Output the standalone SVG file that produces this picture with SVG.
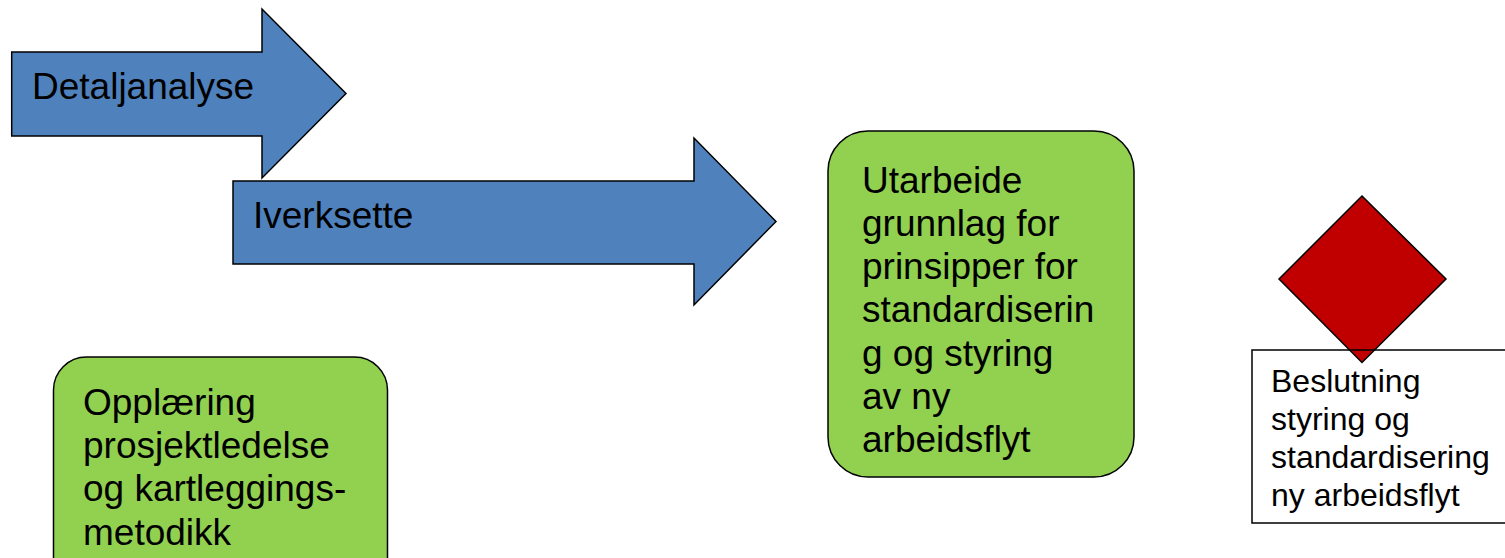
<svg xmlns="http://www.w3.org/2000/svg" width="1505" height="558" viewBox="0 0 1505 558">
<style>
.arrow{fill:#4F81BD;stroke:#000;stroke-width:1.5;stroke-linejoin:miter}
.green{fill:#92D050;stroke:#000;stroke-width:1.5}
.t{font-family:"Liberation Sans",Arial,sans-serif;font-size:37px;fill:#000}
.s{font-family:"Liberation Sans",Arial,sans-serif;font-size:32px;fill:#000}
</style>
<rect width="1505" height="558" fill="#fff"/>
<g id="connectors"></g>
<g id="node-detaljanalyse">
<path class="arrow" d="M11.7,52 H262 V9 L346,93.5 L262,178 V136 H11.7 Z"/>
<text class="t" x="32" y="98.5">Detaljanalyse</text>
</g>
<g id="node-iverksette">
<path class="arrow" d="M233,181 H694 V138 L776,221.5 L694,305 V264 H233 Z"/>
<text class="t" x="253" y="227.5">Iverksette</text>
</g>
<g id="node-opplaering">
<rect class="green" x="53.5" y="357" width="334" height="240" rx="33"/>
<text class="t" x="83" y="414.5">Opplæring</text>
<text class="t" x="83" y="457.8">prosjektledelse</text>
<text class="t" x="83" y="501.1">og kartleggings-</text>
<text class="t" x="83" y="544.5">metodikk</text>
</g>
<g id="node-utarbeide">
<rect class="green" x="828" y="131" width="306" height="346" rx="40"/>
<text class="t" x="862" y="192.5">Utarbeide</text>
<text class="t" x="862" y="235.8">grunnlag for</text>
<text class="t" x="862" y="279.1">prinsipper for</text>
<text class="t" x="862" y="322.4">standardiserin</text>
<text class="t" x="862" y="365.7">g og styring</text>
<text class="t" x="862" y="409">av ny</text>
<text class="t" x="862" y="452.3">arbeidsflyt</text>
</g>
<g id="node-beslutning">
<path d="M1362,196 L1446,279 L1362,362.5 L1279,279 Z" fill="#C00000" stroke="#000" stroke-width="1.5"/>
<rect x="1252" y="350" width="260" height="173" fill="none" stroke="#000" stroke-width="1.5"/>
<text class="s" x="1271" y="392">Beslutning</text>
<text class="s" x="1271" y="430">styring og</text>
<text class="s" x="1271" y="467.7">standardisering</text>
<text class="s" x="1271" y="505.5">ny arbeidsflyt</text>
</g>
</svg>
